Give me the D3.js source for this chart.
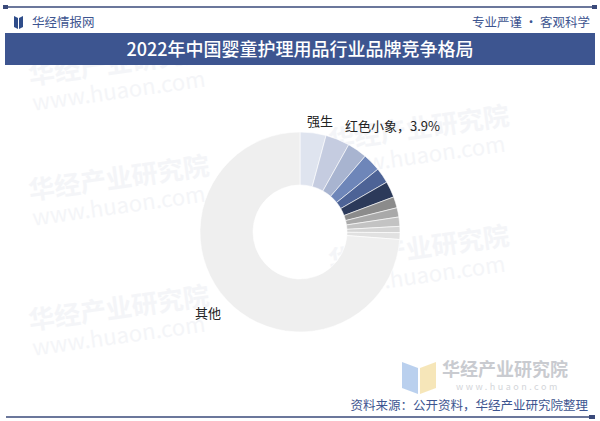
<!DOCTYPE html>
<html><head><meta charset="utf-8">
<script src="https://cdn.jsdelivr.net/npm/d3@7"></script>
<style>html,body{margin:0;padding:0;background:#fff;}svg{display:block;}</style>
</head><body>
<script>
const brands = ["强生","红色小象","品牌3","品牌4","品牌5","品牌6","品牌7","品牌8","品牌9","品牌10","品牌11","其他"];
const shares = [4.2,3.9,3.2,2.9,2.5,2.6,1.8,1.5,1.5,1.0,1.1,73.8];
const colors = ["#dfe4ef","#c5cce0","#a8b4d0","#6e86b9","#4d6396","#2c3a5a","#8b8b8b","#a9a9a9","#c3c3c3","#d5d5d5","#e1e1e1","#efefef"];
const labelText = {"强生":"强生","红色小象":"红色小象，3.9%","其他":"其他"};

const W=600,H=421;
const svg=d3.select("body").append("svg").attr("width",W).attr("height",H);
const font="'Noto Sans CJK SC','Noto Sans',sans-serif";

// watermarks
const wm=svg.append("g").attr("fill","#eef0f4").attr("font-family",font).attr("font-weight","bold");
[[30,85],[30,200],[30,330],[330,150],[330,270]].forEach(([x,y])=>{
  const g=wm.append("g").attr("transform",`translate(${x},${y}) rotate(-8)`);
  g.append("text").attr("font-size",26).attr("opacity",0.6).text("华经产业研究院");
  g.append("text").attr("y",26).attr("font-size",22).attr("font-weight","normal").attr("opacity",0.6).text("www.huaon.com");
});

// top line
svg.append("line").attr("x1",6).attr("x2",594).attr("y1",7).attr("y2",7).attr("stroke","#3a4a7a").attr("stroke-width",1.5);
svg.append("rect").attr("x",3).attr("y",5).attr("width",5).attr("height",4).attr("fill","#3a4a7a");
svg.append("rect").attr("x",592).attr("y",5).attr("width",5).attr("height",4).attr("fill","#3a4a7a");

// header
svg.append("path").attr("d","M14,16 L18,18 L18,29 L14,27 Z M19,18 L23,16 L23,27 L19,29 Z").attr("fill","#2f4d8a");
svg.append("text").attr("x",32).attr("y",27).attr("font-family",font).attr("font-size",12.5).attr("fill","#3d5590").text("华经情报网");
svg.append("text").attr("x",590).attr("y",27).attr("text-anchor","end").attr("font-family",font).attr("font-size",12.5).attr("fill","#3d5590").text("专业严谨 • 客观科学");

// title band
svg.append("rect").attr("x",5).attr("y",33).attr("width",590).attr("height",32).attr("fill","#3d5590");
svg.append("text").attr("x",300).attr("y",55.5).attr("text-anchor","middle").attr("font-family",font).attr("font-weight","500").attr("font-size",18).attr("fill","#fff").text("2022年中国婴童护理用品行业品牌竞争格局");

// donut
const cx=300,cy=232,rO=100,rI=47;
const data=brands.map((b,i)=>({brand:b,value:shares[i],color:colors[i]}));
const pie=d3.pie().value(d=>d.value).sort(null);
const arc=d3.arc().innerRadius(rI).outerRadius(rO);
const arcs=pie(data);
const g=svg.append("g").attr("transform",`translate(${cx},${cy})`);
g.selectAll("path").data(arcs).join("path").attr("d",arc).attr("fill",d=>d.data.color).attr("stroke","#fff").attr("stroke-width",0.6);

// labels
const lblPos={"强生":[320,126,"middle"],"红色小象":[345,131,"start"],"其他":[208,318,"middle"]};
arcs.forEach(a=>{
  const p=lblPos[a.data.brand];
  if(!p) return;
  svg.append("text").attr("x",p[0]).attr("y",p[1]).attr("text-anchor",p[2]).attr("font-family",font).attr("font-size",13).attr("fill","#222").text(labelText[a.data.brand]);
});

// bottom-right logo watermark
const lg=svg.append("g");
lg.append("path").attr("d","M402,362 L418,368 L418,394 L402,388 Z").attr("fill","#a9c4ea").attr("opacity",0.8);
lg.append("path").attr("d","M420,368 L436,362 L436,388 L420,394 Z").attr("fill","#f4e0a8").attr("opacity",0.8);
lg.append("text").attr("x",442).attr("y",376).attr("font-family",font).attr("font-weight","bold").attr("font-size",18).attr("fill","#c9cbd0").text("华经产业研究院");
lg.append("text").attr("x",456).attr("y",390).attr("font-family",font).attr("font-size",9).attr("fill","#d4d6da").attr("letter-spacing",2.5).text("www.huaon.com");

// source
svg.append("text").attr("x",588).attr("y",410).attr("text-anchor","end").attr("font-family",font).attr("font-size",12.5).attr("fill","#3d5590").text("资料来源：公开资料，华经产业研究院整理");
svg.append("line").attr("x1",6).attr("x2",592).attr("y1",417).attr("y2",417).attr("stroke","#3a4a7a").attr("stroke-width",1.5);
svg.append("rect").attr("x",589).attr("y",415).attr("width",6).attr("height",4).attr("fill","#3a4a7a");
</script>
</body></html>
